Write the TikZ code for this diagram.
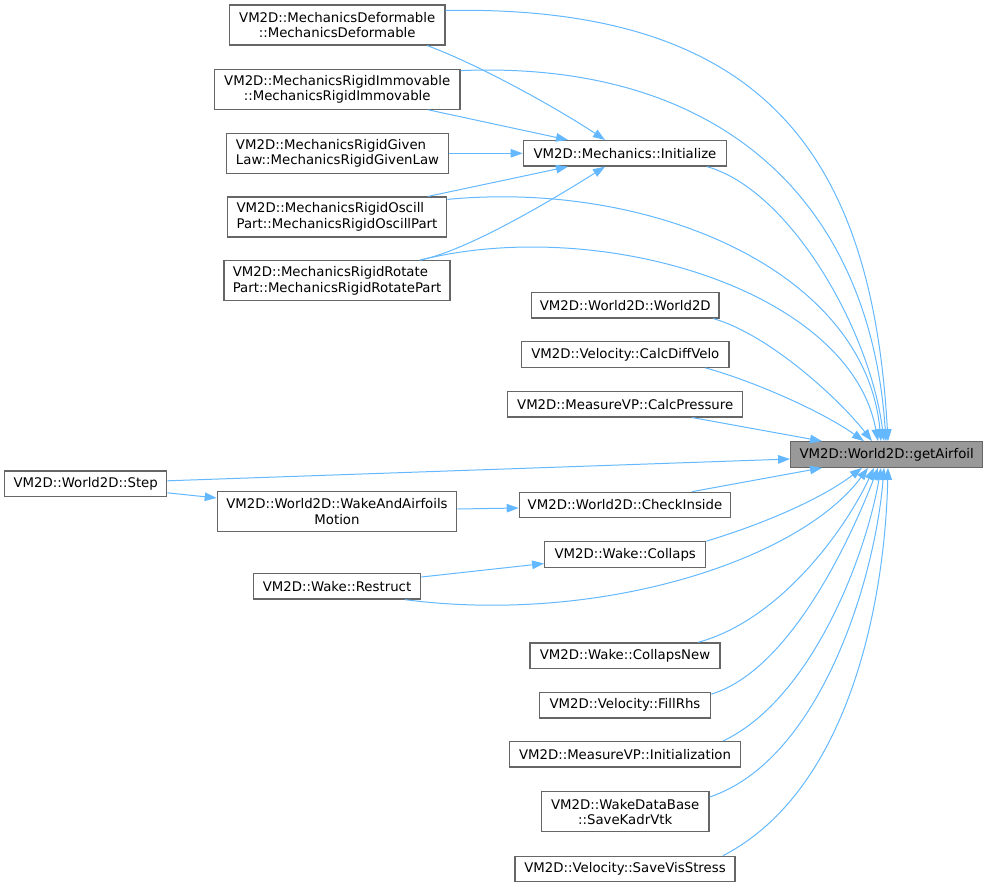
\documentclass[tikz,border=0pt]{standalone}
\usepackage{fontspec}
\setmainfont{DejaVu Sans}
\usetikzlibrary{arrows.meta,calc}
\definecolor{edgec}{HTML}{63B8FF}
\definecolor{boxd}{HTML}{666666}
\definecolor{gfill}{HTML}{999999}
\begin{document}
\begin{tikzpicture}[x=1pt,y=-1pt,
  box/.style={draw=boxd, line width=1.2pt, fill=white, inner sep=0pt,
    font=\fontsize{13.3pt}{15.5pt}\selectfont, minimum height=25.5pt},
  box2/.style={box, minimum height=40pt, align=center},
  box2l/.style={box, minimum height=40pt, align=left},
  call/.style={draw=edgec, line width=1pt, -{Triangle[length=12pt,width=8.5pt]}}
]
\useasboundingbox (0,0) rectangle (988,887);

\node[box2, minimum width=215.7pt] (MD) at (337.2,25) {VM2D::MechanicsDeformable\\::MechanicsDeformable};
\node[box2, minimum width=245.7pt] (IM) at (337.2,89.2) {VM2D::MechanicsRigidImmovable\\::MechanicsRigidImmovable};
\node[box2l, minimum width=221.6pt] (GL) at (337.5,153.3) {VM2D::MechanicsRigidGiven\\Law::MechanicsRigidGivenLaw};
\node[box2l, minimum width=219.4pt] (OP) at (337,217) {VM2D::MechanicsRigidOscill\\Part::MechanicsRigidOscillPart};
\node[box2l, minimum width=226pt] (RP) at (337,280.7) {VM2D::MechanicsRigidRotate\\Part::MechanicsRigidRotatePart};
\node[box, minimum width=203.4pt] (MI) at (625,153.3) {VM2D::Mechanics::Initialize};
\node[box, minimum width=187.3pt] (WW) at (625.3,305.2) {VM2D::World2D::World2D};
\node[box, minimum width=207.3pt] (CDV) at (625.3,354.5) {VM2D::Velocity::CalcDiffVelo};
\node[box, minimum width=235pt] (CP) at (625.2,404.2) {VM2D::MeasureVP::CalcPressure};
\node[box, fill=gfill, minimum width=192pt] (G) at (886.7,454.5) {VM2D::World2D::getAirfoil};
\node[box, minimum width=162pt] (ST) at (85.7,483.8) {VM2D::World2D::Step};
\node[box2, minimum width=239.4pt] (WAM) at (337,511.7) {VM2D::World2D::WakeAndAirfoils\\Motion};
\node[box, minimum width=211.4pt] (CI) at (625,505) {VM2D::World2D::CheckInside};
\node[box, minimum width=161pt] (CO) at (625.2,554.5) {VM2D::Wake::Collaps};
\node[box, minimum width=167.4pt] (RS) at (337,586.3) {VM2D::Wake::Restruct};
\node[box, minimum width=190pt] (CN) at (625,655.7) {VM2D::Wake::CollapsNew};
\node[box, minimum width=171.4pt] (FR) at (625,705.2) {VM2D::Velocity::FillRhs};
\node[box, minimum width=231.4pt] (IN) at (625,754.3) {VM2D::MeasureVP::Initialization};
\node[box2, minimum width=167.7pt] (SKV) at (625.2,811.8) {VM2D::WakeDataBase\\::SaveKadrVtk};
\node[box, minimum width=220pt] (SVS) at (625,869) {VM2D::Velocity::SaveVisStress};

% edges into getAirfoil (top)
\draw[call] ($(MD.north east)+(0,6)$) .. controls (760,5) and (872,150) .. ($(G.north)+(1.3,0)$);
\draw[call] ($(IM.north east)+(0,2)$) .. controls (720,60) and (870,200) .. ($(G.north)+(-0.7,0)$);
\draw[call] ($(MI.south)+(82,0)$) .. controls (790,190) and (870,330) .. ($(G.north)+(-2.7,0)$);
\draw[call] ($(OP.north east)+(0,3)$) .. controls (650,180) and (865,270) .. ($(G.north)+(-5.7,0)$);
\draw[call] ($(RP.north)+(83,0)$) .. controls (600,215) and (850,290) .. ($(G.north)+(-8.7,0)$);
\draw[call] ($(WW.south)+(88,0)$) .. controls (770,335) and (840,400) .. ($(G.north)+(-14.7,0)$);
\draw[call] ($(CDV.south)+(80,0)$) .. controls (750,380) and (820,410) .. ($(G.north)+(-22.7,0)$);
\draw[call] ($(CP.south)+(67,0)$) -- ($(G.north)+(-64.7,0)$);
% left
\draw[call] ($(ST.east)+(0,-3)$) -- ($(G.west)+(0,4.5)$);
% bottom
\draw[call] ($(CI.north)+(67,0)$) -- ($(G.south)+(-64.7,0)$);
\draw[call] (CO.north east) .. controls (760,525) and (820,500) .. ($(G.south)+(-24.7,0)$);
\draw[call] ($(RS.south)+(68,0)$) .. controls (600,625) and (800,560) .. ($(G.south)+(-18.7,0)$);
\draw[call] ($(CN.north)+(73,0)$) .. controls (780,620) and (845,530) .. ($(G.south)+(-12.7,0)$);
\draw[call] ($(FR.north east)+(0,2.3)$) .. controls (790,670) and (850,540) .. ($(G.south)+(-8.7,0)$);
\draw[call] ($(IN.north)+(98,0)$) .. controls (810,700) and (865,560) .. ($(G.south)+(-5.7,0)$);
\draw[call] ($(SKV.east)+(0,-14.8)$) .. controls (820,760) and (875,580) .. ($(G.south)+(-2.7,0)$);
\draw[call] ($(SVS.north)+(98,0)$) .. controls (850,790) and (885,600) .. ($(G.south)+(1.3,0)$);

% edges into Mechanics::Initialize
\draw[call] ($(MD.south)+(90,0)$) .. controls (480,65) and (560,110) .. ($(MI.north)+(-20,0)$);
\draw[call] ($(IM.south)+(91,0)$) -- ($(MI.north)+(-57,0)$);
\draw[call] (GL.east) -- (MI.west);
\draw[call] ($(OP.north)+(91,0)$) -- ($(MI.south)+(-57,0)$);
\draw[call] ($(RP.north)+(83,0)$) .. controls (470,250) and (560,195) .. ($(MI.south)+(-20,0)$);

% other edges
\draw[call] ($(ST.east)+(0,9)$) -- ($(WAM.west)+(0,-13.7)$);
\draw[call] ($(WAM.east)+(0,-2.7)$) -- ($(CI.west)+(0,3)$);
\draw[call] ($(RS.east)+(0,-9.3)$) -- ($(CO.west)+(0,9)$);
\end{tikzpicture}
\end{document}
